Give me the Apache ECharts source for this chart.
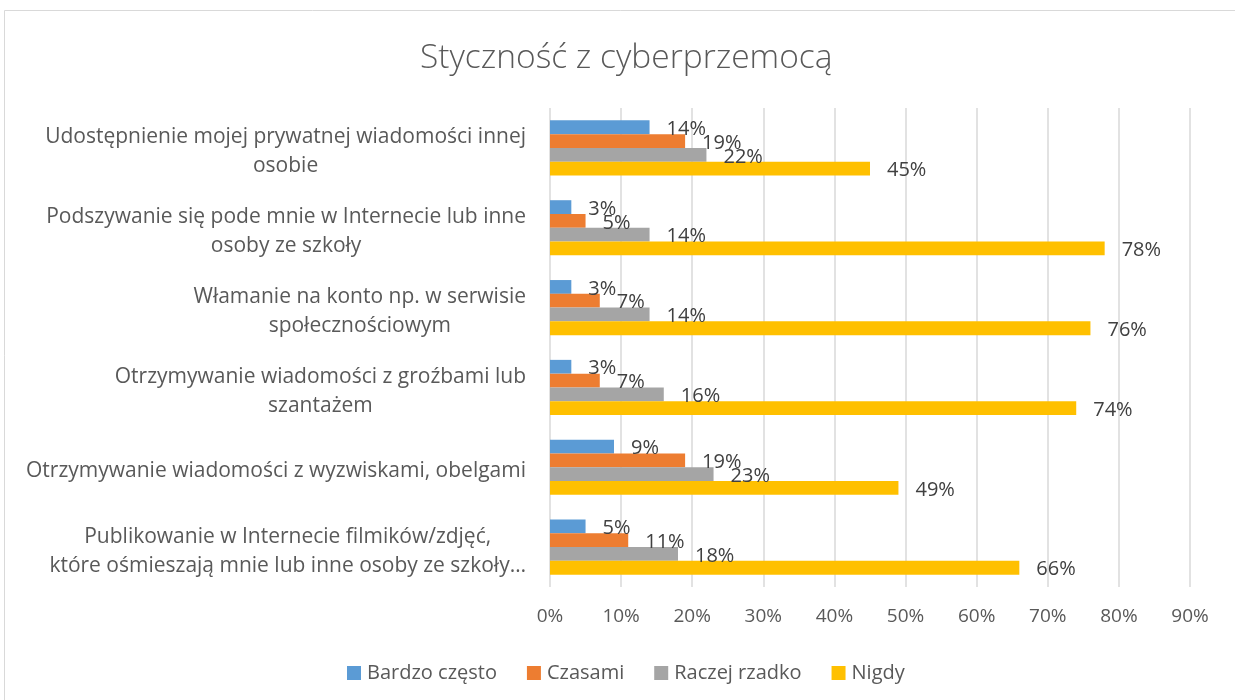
<!DOCTYPE html>
<html>
<head>
<meta charset="utf-8">
<script src="https://cdn.jsdelivr.net/npm/echarts@6/dist/echarts.min.js"></script>
<style>html,body{margin:0;padding:0;background:#fff}#c{width:1235px;height:700px}</style>
</head>
<body>
<div id="c"></div>
<script>
const categories = [
  "Udostępnienie mojej prywatnej wiadomości innej\nosobie",
  "Podszywanie się pode mnie w Internecie lub inne\nosoby ze szkoły",
  "Włamanie na konto np. w serwisie\nspołecznościowym",
  "Otrzymywanie wiadomości z groźbami lub\nszantażem",
  "Otrzymywanie wiadomości z wyzwiskami, obelgami",
  "Publikowanie w Internecie filmików/zdjęć,\nktóre ośmieszają mnie lub inne osoby ze szkoły…"
];
const seriesNames = ["Bardzo często", "Czasami", "Raczej rzadko", "Nigdy"];
const bardzoCzesto = [14, 3, 3, 3, 9, 5];
const czasami = [19, 5, 7, 7, 19, 11];
const raczejRzadko = [22, 14, 14, 16, 23, 18];
const nigdy = [45, 78, 76, 74, 49, 66];
const colors = ["#5B9BD5", "#ED7D31", "#A5A5A5", "#FFC000"];

const FONT = "'Open Sans', sans-serif";
const chart = echarts.init(document.getElementById('c'), null, {renderer: 'canvas'});
const values = [bardzoCzesto, czasami, raczejRzadko, nigdy];
chart.setOption({
  animation: false,
  backgroundColor: '#fff',
  textStyle: {fontFamily: FONT},
  title: {
    text: 'Styczność z cyberprzemocą',
    left: 415, top: 36,
    textStyle: {fontFamily: FONT, fontWeight: 300, fontSize: 33.5, color: '#595959'}
  },
  graphic: [{
    type: 'rect', shape: {x: 4.5, y: 10.5, width: 1240, height: 700},
    style: {fill: 'none', stroke: '#d9d9d9', lineWidth: 1}, silent: true
  }],
  legend: {
    top: 658, left: 342, itemWidth: 14, itemHeight: 14, itemGap: 30,
    icon: 'rect',
    textStyle: {fontFamily: FONT, fontSize: 20, lineHeight: 20, color: '#595959', padding: [0, 0, 0, 1]},
    data: seriesNames
  },
  grid: {left: 550, right: 45, top: 108, bottom: 113, containLabel: false},
  xAxis: {
    type: 'value', min: 0, max: 90, interval: 10,
    axisLine: {show: false}, axisTick: {show: false},
    splitLine: {show: true, lineStyle: {color: '#d9d9d9', width: 1.5}},
    axisLabel: {formatter: '{value}%', fontFamily: FONT, fontSize: 19, color: '#595959', margin: 20}
  },
  yAxis: {
    type: 'category', inverse: true, data: categories,
    axisLine: {show: false}, axisTick: {show: false},
    axisLabel: {
      margin: 24, fontFamily: FONT, fontSize: 21, color: '#595959', align: 'right',
      padding: [8, 0, 0, 0],
      formatter: v => v.split('\n').map(l => '{c|' + l + '}').join('\n'),
      rich: {c: {align: 'center', fontFamily: FONT, fontSize: 21, color: '#595959', lineHeight: 29}}
    }
  },
  series: seriesNames.map((n, i) => ({
    name: n, type: 'bar', data: values[i],
    barGap: '0%', barCategoryGap: '31%',
    itemStyle: {color: colors[i]},
    label: {show: true, position: 'right', distance: 17, offset: [0, 2], formatter: '{c}%',
      fontFamily: FONT, fontSize: 20, color: '#404040'}
  }))
});
</script>
</body>
</html>
